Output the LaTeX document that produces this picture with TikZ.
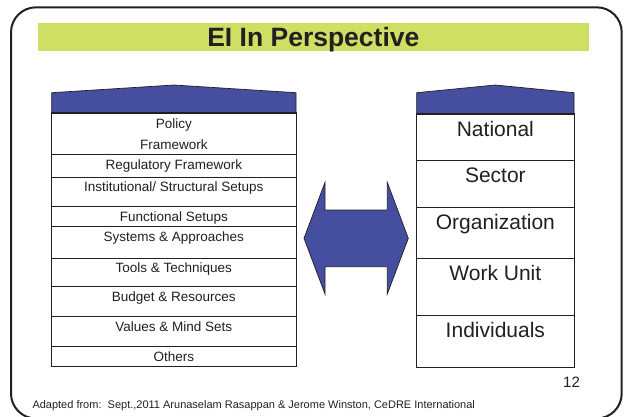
\documentclass[tikz,border=0pt]{standalone}
\usepackage{fontspec}
\setmainfont{Liberation Sans}
\usetikzlibrary{positioning}
\definecolor{SlideGreen}{RGB}{207,223,99}
\definecolor{SlideBlue}{RGB}{69,78,159}
\definecolor{SlideInk}{RGB}{35,31,32}

\begin{document}
\begin{tikzpicture}[x=1pt, y=-1pt]
    \tikzstyle{roof}=[draw=SlideInk, line width=0.7pt, fill=SlideBlue]
    \tikzstyle{lrow}=[draw=SlideInk, line width=0.6pt, minimum width=244.3pt, inner sep=0pt, anchor=north]
    \tikzstyle{rrow}=[draw=SlideInk, line width=0.8pt, minimum width=157.3pt, inner sep=0pt, anchor=north]
    \tikzstyle{ltext}=[anchor=base, inner sep=0pt, align=center, text=SlideInk, font=\fontsize{13.5}{21.3}\selectfont]
    \tikzstyle{rtext}=[anchor=base, inner sep=0pt, text=SlideInk, font=\fontsize{21}{25}\selectfont]
    \useasboundingbox (0,0) rectangle (625,416);

    % slide frame and title
    \draw[SlideInk, line width=2pt, rounded corners=25pt] (11,7.3) rectangle (621.7,418.5);
    \node[fill=SlideGreen, minimum width=551.3pt, minimum height=28pt, inner sep=0pt,
          text height=18.6pt, text depth=0pt, text=SlideInk,
          font=\bfseries\fontsize{26.5}{30}\selectfont] (title) at (313.35,36.7) {EI In Perspective};

    % left column (base = last line of the label)
    \filldraw[roof] (51.7,113) -- (51.7,92.7) -- (173.85,85) -- (296,92.7) -- (296,113) -- cycle;
    \foreach \txt/\ytop/\ybot/\ybase [count=\i] in {{Policy\\Framework}/113/154/36.3,
        Regulatory Framework/154/176.7/15, {Institutional/ Structural Setups}/176.7/206/15,
        Functional Setups/206/226/15, Systems \& Approaches/226/257.7/15,
        Tools \& Techniques/257.7/286/15, Budget \& Resources/286/316/15,
        Values \& Mind Sets/316/346/15, Others/346/365.5/15} {
        \pgfmathsetmacro{\rowh}{\ybot-\ytop}
        \node[lrow, minimum height=\rowh pt] (lrow\i) at (173.85,\ytop) {};
        \node[ltext] (ltxt\i) at ([yshift=-\ybase pt]lrow\i.north) {\txt};
    }
    \draw[SlideInk, line width=1.2pt] (lrow1.north west) rectangle (lrow9.south east);

    % right column
    \filldraw[roof] (416.7,114) -- (416.7,92.7) -- (495.35,85) -- (574,92.7) -- (574,114) -- cycle;
    \foreach \txt/\ytop/\ybot [count=\i] in {National/114/160, Sector/160/207, Organization/207/258,
        Work Unit/258/315, Individuals/315/366.5} {
        \pgfmathsetmacro{\rowh}{\ybot-\ytop}
        \node[rrow, minimum height=\rowh pt] (rrow\i) at (495.35,\ytop) {};
        \node[rtext] (rtxt\i) at ([yshift=-22.5pt]rrow\i.north) {\txt};
    }
    \draw[SlideInk, line width=1.2pt] (rrow1.north west) rectangle (rrow5.south east);

    % two-way block arrow
    \filldraw[draw=SlideInk, line width=0.7pt, fill=SlideBlue] (304,238.3) -- (325,182.3) -- (325,210)
        -- (387.3,210) -- (387.3,182.3) -- (408.3,238.3) -- (387.3,294) -- (387.3,266.7)
        -- (325,266.7) -- (325,294) -- cycle;

    % footer
    \node[anchor=base west, inner sep=0pt, text=SlideInk, font=\fontsize{11}{13}\selectfont] (source) at (32.3,408)
        {Adapted from:\ \ Sept.,2011 Arunaselam Rasappan \& Jerome Winston, CeDRE International};
    \node[inner sep=0pt, text=SlideInk, font=\fontsize{15}{18}\selectfont] (pagenum) at (571.5,382) {12};
\end{tikzpicture}
\end{document}
